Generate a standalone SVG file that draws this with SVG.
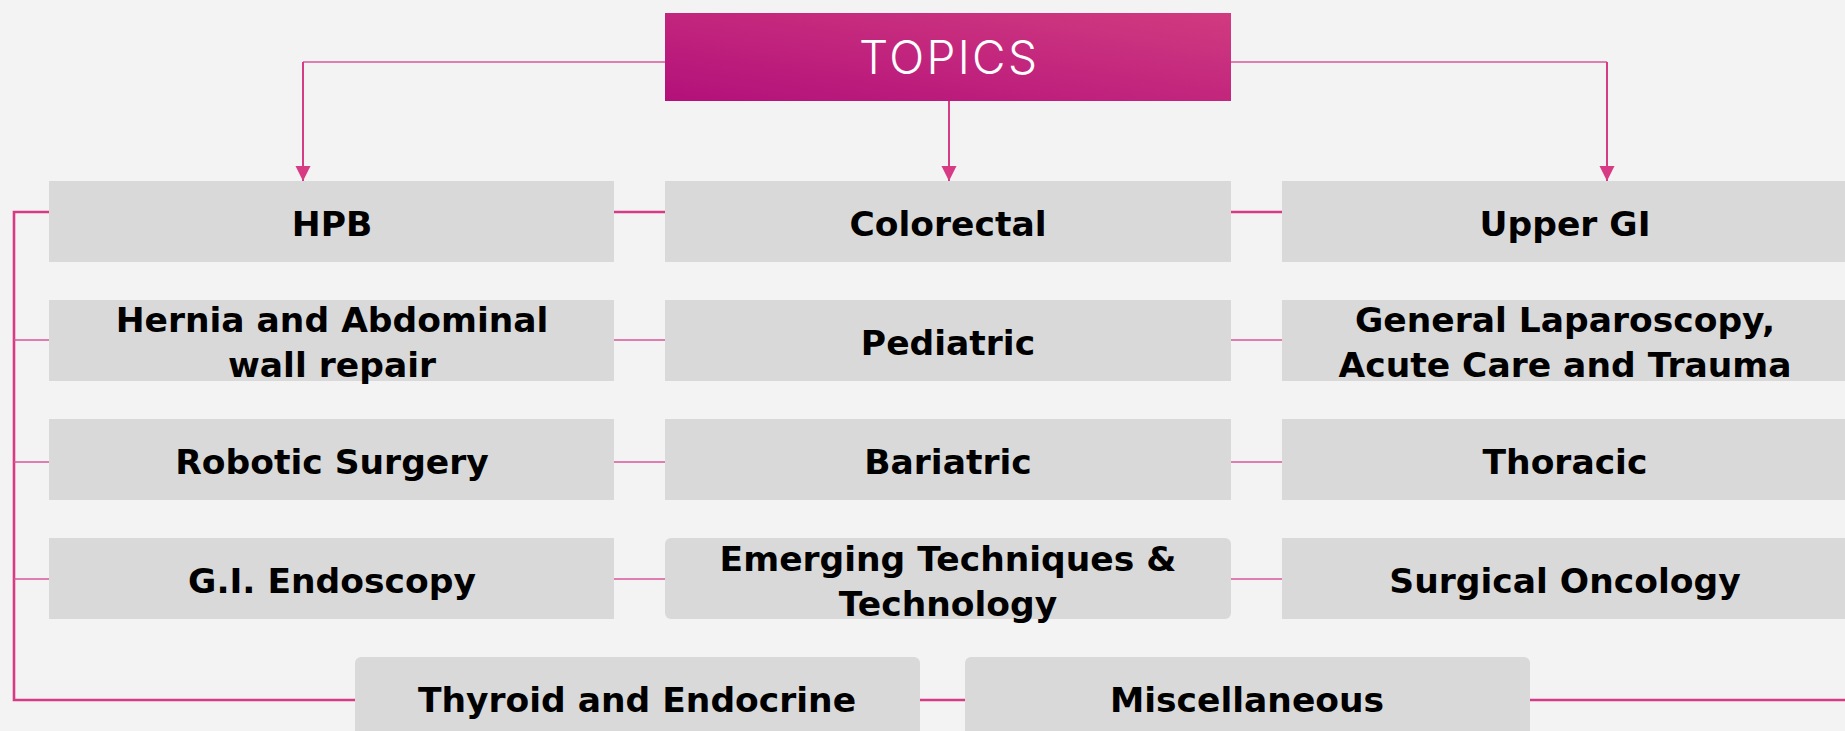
<svg xmlns="http://www.w3.org/2000/svg" width="1845" height="731" viewBox="0 0 1845 731">
<style>
.box{fill:#d9d9d9}
.t{font-family:"DejaVu Sans","Liberation Sans",sans-serif;font-weight:700;font-size:34.5px;fill:#000;text-anchor:middle}
.ln{fill:none;stroke:#d63b84;stroke-width:2}
.thin{fill:none;stroke:#d9579a;stroke-width:1.4}
.thick{fill:none;stroke:#d63b84;stroke-width:2.6}
</style>
<defs>
<linearGradient id="g" x1="0" y1="1" x2="1" y2="0">
<stop offset="0" stop-color="#b3107a"/>
<stop offset="1" stop-color="#d13b80"/>
</linearGradient>
<marker id="arr" markerWidth="16" markerHeight="16" refX="15" refY="8" orient="auto" markerUnits="userSpaceOnUse">
<path d="M0,0.5 L15,8 L0,15.5 Z" fill="#d63b84"/>
</marker>
</defs>
<rect width="1845" height="731" fill="#f3f3f3"/>
<g id="connectors">
<path class="thin" d="M665,62 H303"/>
<path class="ln" d="M303,62 V181" marker-end="url(#arr)"/>
<path class="ln" d="M949,101 V181" marker-end="url(#arr)"/>
<path class="thin" d="M1231,62 H1607"/>
<path class="ln" d="M1607,62 V181" marker-end="url(#arr)"/>
<path class="thick" d="M49,212 H14 V700 H355"/>
<path class="thin" d="M14,340 H49 M14,462 H49 M14,579 H49"/>
<path class="thick" d="M614,212 H665 M1231,212 H1282"/>
<path class="thin" d="M614,340 H665 M1231,340 H1282 M614,462 H665 M1231,462 H1282 M614,579 H665 M1231,579 H1282"/>
<path class="thick" d="M920,700 H965 M1530,700 H1845"/>
</g>
<g id="topics">
<rect x="665" y="13" width="566" height="88" fill="url(#g)"/>
<text x="948" y="74" font-family="Inter,'Open Sans',sans-serif" font-weight="300" font-size="46" fill="#fff" text-anchor="middle" textLength="178" lengthAdjust="spacing">TOPICS</text>
</g>
<g id="hpb"><rect class="box" x="49" y="181" width="565" height="81"/><text class="t" x="332" y="236">HPB</text></g>
<g id="colorectal"><rect class="box" x="665" y="181" width="566" height="81"/><text class="t" x="948" y="236">Colorectal</text></g>
<g id="upper-gi"><rect class="box" x="1282" y="181" width="566" height="81"/><text class="t" x="1565" y="236">Upper GI</text></g>
<g id="hernia"><rect class="box" x="49" y="300" width="565" height="81"/><text class="t" x="332" y="332">Hernia and Abdominal</text><text class="t" x="332" y="377">wall repair</text></g>
<g id="pediatric"><rect class="box" x="665" y="300" width="566" height="81"/><text class="t" x="948" y="355">Pediatric</text></g>
<g id="general-lap"><rect class="box" x="1282" y="300" width="566" height="81"/><text class="t" x="1565" y="332">General Laparoscopy,</text><text class="t" x="1565" y="377">Acute Care and Trauma</text></g>
<g id="robotic"><rect class="box" x="49" y="419" width="565" height="81"/><text class="t" x="332" y="474">Robotic Surgery</text></g>
<g id="bariatric"><rect class="box" x="665" y="419" width="566" height="81"/><text class="t" x="948" y="474">Bariatric</text></g>
<g id="thoracic"><rect class="box" x="1282" y="419" width="566" height="81"/><text class="t" x="1565" y="474">Thoracic</text></g>
<g id="gi-endoscopy"><rect class="box" x="49" y="538" width="565" height="81"/><text class="t" x="332" y="593">G.I. Endoscopy</text></g>
<g id="emerging"><rect class="box" x="665" y="538" width="566" height="81" rx="6"/><text class="t" x="948" y="571">Emerging Techniques &amp;</text><text class="t" x="948" y="616">Technology</text></g>
<g id="surgical-oncology"><rect class="box" x="1282" y="538" width="566" height="81"/><text class="t" x="1565" y="593">Surgical Oncology</text></g>
<g id="thyroid"><rect class="box" x="355" y="657" width="565" height="90" rx="6"/><text class="t" x="637" y="712">Thyroid and Endocrine</text></g>
<g id="misc"><rect class="box" x="965" y="657" width="565" height="90" rx="6"/><text class="t" x="1247" y="712">Miscellaneous</text></g>
</svg>
